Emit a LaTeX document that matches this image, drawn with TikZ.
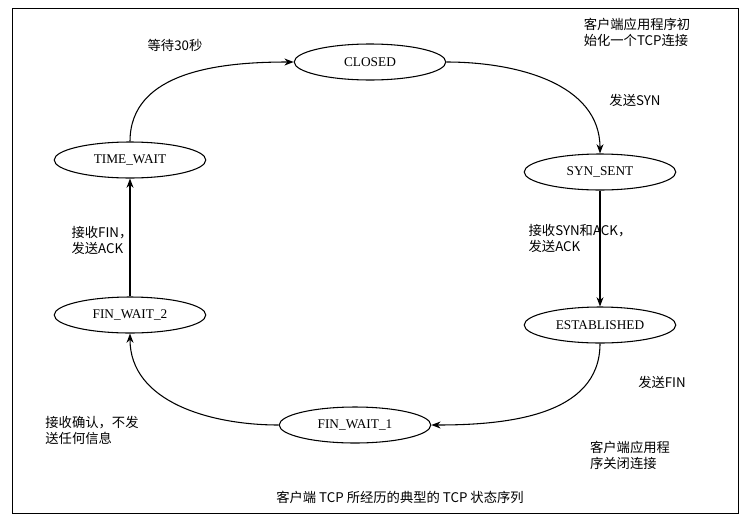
\documentclass[tikz,border=0pt]{standalone}
\usepackage{fontspec}
\setmainfont{Liberation Serif}
\newfontfamily\cjk{Noto Sans CJK SC}
\usetikzlibrary{shapes.geometric,arrows.meta}

\begin{document}
\begin{tikzpicture}[x=0.0264cm,y=-0.0264cm,>={Stealth[length=7pt]},thick]
    \tikzstyle{state}=[ellipse,draw,minimum width=4.0cm,minimum height=0.95cm,inner sep=0pt]
    \tikzstyle{annot}=[align=left,font=\cjk]
    \useasboundingbox (0,0) rectangle (746,523);
    \draw[thin] (12,8) rectangle (738,513);

    % the states
    \node[state] (CL) at (370,62) {CLOSED};
    \node[state] (SS) at (600,172) {SYN\_SENT};
    \node[state] (ES) at (600,325) {ESTABLISHED};
    \node[state] (F1) at (355,425) {FIN\_WAIT\_1};
    \node[state] (F2) at (130,315) {FIN\_WAIT\_2};
    \node[state] (TW) at (130,160) {TIME\_WAIT};

    % the transitions
    \draw[->] (CL.east) to[out=0,in=90] (SS.north);
    \draw[->] (SS.south) -- (ES.north);
    \draw[->] (ES.south) to[out=-90,in=0] (F1.east);
    \draw[->] (F1.west) to[out=180,in=-90] (F2.south);
    \draw[->] (F2.north) -- (TW.south);
    \draw[->] (TW.north) to[out=90,in=180] (CL.west);

    % labels
    \node[annot] at (175,45) {等待30秒};
    \node[annot] at (637,32) {客户端应用程序初\\始化一个TCP连接};
    \node[annot] at (635,100) {发送SYN};
    \node[annot] at (580,238) {接收SYN和ACK，\\发送ACK};
    \node[annot] at (662,382) {发送FIN};
    \node[annot] at (630,455) {客户端应用程\\序关闭连接};
    \node[annot] at (92,430) {接收确认，不发\\送任何信息};
    \node[annot] at (102,240) {接收FIN，\\发送ACK};
    \node[font=\cjk] at (400,497) {客户端 TCP 所经历的典型的 TCP 状态序列};
\end{tikzpicture}
\end{document}
